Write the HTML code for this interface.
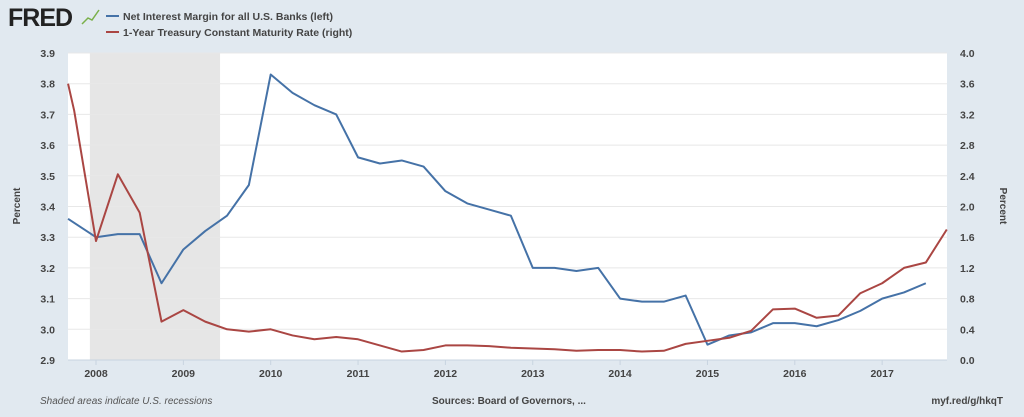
<!DOCTYPE html>
<html><head><meta charset="utf-8"><style>
body{margin:0;background:#e1e9f0;font-family:"Liberation Sans",sans-serif;}
svg text{font-family:"Liberation Sans",sans-serif;}
</style></head><body>
<svg id="c" width="1024" height="412">
<rect width="1024" height="412" fill="#e1e9f0"/>
<text x="8" y="26" font-size="25" font-weight="bold" fill="#222" letter-spacing="-1">FRED</text>
<polyline points="82,24 88,18 92,20 99,10" fill="none" stroke="#7ab04a" stroke-width="1.5"/>
<line x1="106" y1="16" x2="119" y2="16" stroke="#4572a7" stroke-width="2"/>
<text x="123" y="20" font-size="10.5" font-weight="bold" fill="#444">Net Interest Margin for all U.S. Banks (left)</text>
<line x1="106" y1="32" x2="119" y2="32" stroke="#aa4643" stroke-width="2"/>
<text x="123" y="36" font-size="10.5" font-weight="bold" fill="#444">1-Year Treasury Constant Maturity Rate (right)</text>
<rect x="68" y="53" width="879" height="307" fill="#fff"/>
<g id="grid"></g><g id="marks"></g><g id="axes"></g>
<text x="20" y="206" font-size="10" font-weight="bold" fill="#444" transform="rotate(-90 20 206)" text-anchor="middle">Percent</text>
<text x="1000" y="206" font-size="10" font-weight="bold" fill="#444" transform="rotate(90 1000 206)" text-anchor="middle">Percent</text>
<text x="40" y="404" font-size="10" font-style="italic" fill="#555">Shaded areas indicate U.S. recessions</text>
<text x="432" y="404" font-size="10" font-weight="bold" fill="#444">Sources: Board of Governors, ...</text>
<text x="1003" y="404" font-size="10" font-weight="bold" fill="#444" text-anchor="end">myf.red/g/hkqT</text>
</svg>
<script>
const yearTicks=[2008,2009,2010,2011,2012,2013,2014,2015,2016,2017];
const leftTicks=[2.9,3.0,3.1,3.2,3.3,3.4,3.5,3.6,3.7,3.8,3.9];
const rightTicks=[0.0,0.4,0.8,1.2,1.6,2.0,2.4,2.8,3.2,3.6,4.0];
const recession=[2007.93,2009.42];
const nimDates=[2007.68,2008,2008.25,2008.5,2008.75,2009,2009.25,2009.5,2009.75,2010,2010.25,2010.5,2010.75,2011,2011.25,2011.5,2011.75,2012,2012.25,2012.5,2012.75,2013,2013.25,2013.5,2013.75,2014,2014.25,2014.5,2014.75,2015,2015.25,2015.5,2015.75,2016,2016.25,2016.5,2016.75,2017,2017.25,2017.5];
const nimValues=[3.36,3.30,3.31,3.31,3.15,3.26,3.32,3.37,3.47,3.83,3.77,3.73,3.70,3.56,3.54,3.55,3.53,3.45,3.41,3.39,3.37,3.20,3.20,3.19,3.20,3.10,3.09,3.09,3.11,2.95,2.98,2.99,3.02,3.02,3.01,3.03,3.06,3.10,3.12,3.15];
const tsyDates=[2007.68,2007.75,2008,2008.25,2008.5,2008.75,2009,2009.25,2009.5,2009.75,2010,2010.25,2010.5,2010.75,2011,2011.25,2011.5,2011.75,2012,2012.25,2012.5,2012.75,2013,2013.25,2013.5,2013.75,2014,2014.25,2014.5,2014.75,2015,2015.25,2015.5,2015.75,2016,2016.25,2016.5,2016.75,2017,2017.25,2017.5,2017.74];
const tsyValues=[3.6,3.25,1.55,2.42,1.92,0.5,0.65,0.5,0.4,0.37,0.4,0.32,0.27,0.3,0.27,0.19,0.11,0.13,0.19,0.19,0.18,0.16,0.15,0.14,0.12,0.13,0.13,0.11,0.12,0.21,0.25,0.29,0.38,0.66,0.67,0.55,0.58,0.87,1.0,1.2,1.27,1.7];
const L=68,R=947,T=53,B=360;
const x=d=>96+(d-2008)*87.35;
const yl=v=>B-(v-2.9)/1.0*(B-T);
const yr=v=>B-v/4.0*(B-T);
const NS="http://www.w3.org/2000/svg";
function mk(tag,attrs,parent){const e=document.createElementNS(NS,tag);for(const k in attrs)e.setAttribute(k,attrs[k]);document.getElementById(parent).appendChild(e);return e;}
const rec=mk('rect',{x:x(recession[0]),y:T,width:x(recession[1])-x(recession[0]),height:B-T,fill:'#e6e6e6'},'grid');


leftTicks.forEach((v,i)=>{
 const g=mk('line',{x1:L,x2:R,y1:yl(v),y2:yl(v),stroke:'#e8e8e8','stroke-width':1},'grid');
 
 
 const t=mk('text',{x:55,y:yl(v)+4,'font-size':10.5,'font-weight':'bold',fill:'#444','text-anchor':'end'},'axes');
 t.textContent=v.toFixed(1);
 
 
});
rightTicks.forEach(v=>{
 const t=mk('text',{x:960,y:yr(v)+4,'font-size':10.5,'font-weight':'bold',fill:'#444'},'axes');
 t.textContent=v.toFixed(1);
 
 
});
yearTicks.forEach(yv=>{
 const k=mk('line',{x1:x(yv),x2:x(yv),y1:B,y2:B+5,stroke:'#c8d4e0'},'axes');
 
 
 const t=mk('text',{x:x(yv),y:B+17,'font-size':10.5,'font-weight':'bold',fill:'#444','text-anchor':'middle'},'axes');
 t.textContent=yv;
 
 
});
const ax=mk('line',{x1:L,x2:R,y1:B,y2:B,stroke:'#c8d4e0'},'axes');


const p1=mk('polyline',{points:nimDates.map((d,i)=>x(d)+','+yl(nimValues[i])).join(' '),fill:'none',stroke:'#4572a7','stroke-width':2,'stroke-linejoin':'round'},'marks');


const p2=mk('polyline',{points:tsyDates.map((d,i)=>x(d)+','+yr(tsyValues[i])).join(' '),fill:'none',stroke:'#aa4643','stroke-width':2,'stroke-linejoin':'round'},'marks');


</script>
</body></html>
